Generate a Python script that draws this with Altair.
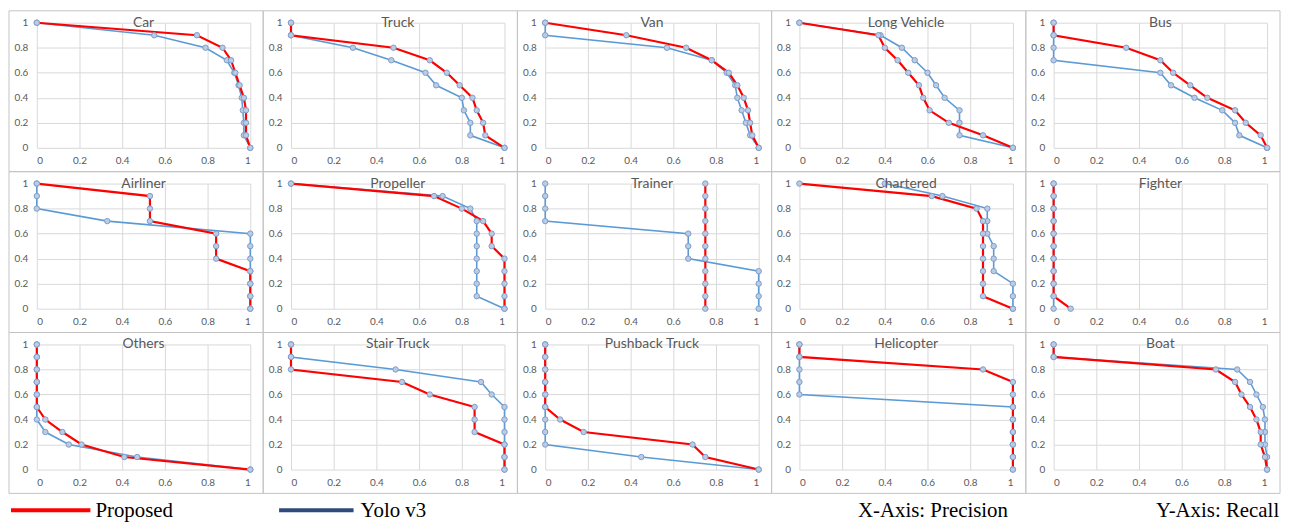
import altair as alt
import pandas as pd

# ---------------- data ----------------
names = ["Car", "Truck", "Van", "Long Vehicle", "Bus",
         "Airliner", "Propeller", "Trainer", "Chartered", "Fighter",
         "Others", "Stair Truck", "Pushback Truck", "Helicopter", "Boat"]

recall_levels = [1.0, 0.9, 0.8, 0.7, 0.6, 0.5, 0.4, 0.3, 0.2, 0.1, 0.0]

# precision at each recall level (recall 1.0 -> 0.0)
car_proposed = [0, 0.75, 0.87, 0.91, 0.93, 0.95, 0.97, 0.98, 0.98, 0.98, 1]
car_yolo = [0, 0.55, 0.79, 0.89, 0.925, 0.945, 0.96, 0.965, 0.97, 0.97, 1]
truck_proposed = [0, 0, 0.48, 0.65, 0.73, 0.79, 0.85, 0.87, 0.90, 0.91, 1]
truck_yolo = [0, 0, 0.29, 0.47, 0.63, 0.68, 0.80, 0.81, 0.84, 0.84, 1]
van_proposed = [0, 0.38, 0.66, 0.78, 0.86, 0.90, 0.93, 0.95, 0.96, 0.97, 1]
van_yolo = [0, 0, 0.57, 0.78, 0.85, 0.89, 0.90, 0.92, 0.94, 0.96, 1]
long_vehicle_proposed = [0, 0.37, 0.40, 0.46, 0.51, 0.56, 0.58, 0.61, 0.70, 0.86, 1]
long_vehicle_yolo = [0, 0.38, 0.48, 0.54, 0.60, 0.64, 0.68, 0.75, 0.75, 0.75, 1]
bus_proposed = [0, 0, 0.34, 0.50, 0.56, 0.64, 0.72, 0.85, 0.90, 0.97, 1]
bus_yolo = [0, 0, 0, 0, 0.50, 0.55, 0.66, 0.79, 0.85, 0.87, 1]
airliner_proposed = [0, 0.53, 0.53, 0.53, 0.84, 0.84, 0.84, 1, 1, 1, 1]
airliner_yolo = [0, 0, 0, 0.33, 1, 1, 1, 1, 1, 1, 1]
propeller_proposed = [0, 0.67, 0.80, 0.90, 0.94, 0.94, 1, 1, 1, 1, 1]
propeller_yolo = [0, 0.71, 0.84, 0.87, 0.87, 0.87, 0.87, 0.87, 0.87, 0.87, 1]
trainer_proposed = [0.75, 0.75, 0.75, 0.75, 0.75, 0.75, 0.75, 0.75, 0.75, 0.75, 0.75]
trainer_yolo = [0, 0, 0, 0, 0.67, 0.67, 0.67, 1, 1, 1, 1]
chartered_proposed = [0, 0.62, 0.83, 0.86, 0.86, 0.86, 0.86, 0.86, 0.86, 0.86, 1]
chartered_yolo = [0.40, 0.67, 0.88, 0.88, 0.88, 0.91, 0.91, 0.91, 1, 1, 1]
fighter_proposed = [0, 0, 0, 0, 0, 0, 0, 0, 0, 0, 0.08]
fighter_yolo = [0, 0, 0, 0, 0, 0, 0, 0, 0, 0, 0]
others_proposed = [0, 0, 0, 0, 0, 0, 0.04, 0.12, 0.21, 0.41, 1]
others_yolo = [0, 0, 0, 0, 0, 0, 0, 0.04, 0.15, 0.47, 1]
stair_truck_proposed = [0, 0, 0, 0.52, 0.65, 0.86, 0.86, 0.86, 1, 1, 1]
stair_truck_yolo = [0, 0, 0.49, 0.89, 0.94, 1, 1, 1, 1, 1, 1]
pushback_truck_proposed = [0, 0, 0, 0, 0, 0, 0.07, 0.18, 0.69, 0.75, 1]
pushback_truck_yolo = [0, 0, 0, 0, 0, 0, 0, 0, 0, 0.45, 1]
helicopter_proposed = [0, 0, 0.86, 1, 1, 1, 1, 1, 1, 1, 1]
helicopter_yolo = [0, 0, 0, 0, 0, 1, 1, 1, 1, 1, 1]
boat_proposed = [0, 0, 0.76, 0.85, 0.88, 0.92, 0.95, 0.97, 0.97, 0.99, 1]
boat_yolo = [0, 0, 0.86, 0.92, 0.95, 0.98, 0.99, 0.99, 0.99, 1.0, 1.0]

proposed_lists = [car_proposed, truck_proposed, van_proposed, long_vehicle_proposed, bus_proposed,
                  airliner_proposed, propeller_proposed, trainer_proposed, chartered_proposed, fighter_proposed,
                  others_proposed, stair_truck_proposed, pushback_truck_proposed, helicopter_proposed, boat_proposed]
yolo_lists = [car_yolo, truck_yolo, van_yolo, long_vehicle_yolo, bus_yolo,
              airliner_yolo, propeller_yolo, trainer_yolo, chartered_yolo, fighter_yolo,
              others_yolo, stair_truck_yolo, pushback_truck_yolo, helicopter_yolo, boat_yolo]

tick_values = [0, 0.2, 0.4, 0.6, 0.8, 1]
legend_labels = ["Proposed", "Yolo v3"]
axis_notes = ["X-Axis: Precision", "Y-Axis: Recall"]

rows = []
for name, prop, yolo in zip(names, proposed_lists, yolo_lists):
    for series, vals in (("Yolo v3", yolo), ("Proposed", prop)):
        for i, (p, r) in enumerate(zip(vals, recall_levels)):
            rows.append({"panel": name, "series": series, "idx": i, "precision": p, "recall": r})
df = pd.DataFrame(rows)

# ---------------- style ----------------
W, H = 215, 126
HSP, VSP = 41, 36
RED = "#FF0000"
BLUE = "#5B9BD5"
NAVY = "#2F4B7C"
BORDER = "#C4C4C4"
TXT = "#595959"
FONT = "Lato"

x_enc = alt.X("precision:Q", scale=alt.Scale(domain=[0, 1], nice=False, zero=False),
              axis=alt.Axis(values=tick_values, format="~g", title=None, labelPadding=8))
y_enc = alt.Y("recall:Q", scale=alt.Scale(domain=[0, 1], nice=False, zero=False),
              axis=alt.Axis(values=tick_values, format="~g", title=None, labelPadding=9))

one = pd.DataFrame({"b": [0]})


def leg_text(label, xpos, ypos):
    return alt.Chart(pd.DataFrame({"t": [label]})).mark_text(
        font="Liberation Serif", fontSize=21, color="#000000", align="left", baseline="middle"
    ).encode(text="t:N", x=alt.value(xpos), y=alt.value(ypos))


def legend_layers():
    ly = H + 41  # vertical centre of the legend line below the last row
    return [
        alt.Chart(one).mark_rule(color=RED, strokeWidth=4).encode(
            x=alt.value(-26), x2=alt.value(54), y=alt.value(ly)),
        alt.Chart(one).mark_rule(color=NAVY, strokeWidth=4).encode(
            x=alt.value(244), x2=alt.value(319), y=alt.value(ly)),
        leg_text(legend_labels[0], 59, ly + 1),
        leg_text(legend_labels[1], 326, ly + 1),
        leg_text(axis_notes[0], 827, ly + 1),
        leg_text(axis_notes[1], 1127, ly + 1),
    ]


def panel(name, with_legend=False):
    base = alt.Chart(df).transform_filter(alt.datum.panel == name)
    border = alt.Chart(one).mark_rect(
        fillOpacity=0, stroke=BORDER, strokeWidth=1
    ).encode(x=alt.value(-28), x2=alt.value(W + 13), y=alt.value(-12), y2=alt.value(H + 24))
    blue = base.transform_filter(alt.datum.series == "Yolo v3").mark_line(
        color=BLUE, strokeWidth=1.6).encode(x=x_enc, y=y_enc, order="idx:Q")
    red = base.transform_filter(alt.datum.series == "Proposed").mark_line(
        color=RED, strokeWidth=2.2).encode(x=x_enc, y=y_enc, order="idx:Q")
    pts = base.mark_point(shape="circle", filled=True, size=30, fill="#BACBE3",
                          stroke="#7E9CC9", strokeWidth=1, opacity=1).encode(x=x_enc, y=y_enc)
    title = alt.Chart(pd.DataFrame({"t": [name]})).mark_text(
        font=FONT, fontSize=14, color=TXT, baseline="middle", align="center"
    ).encode(text="t:N", x=alt.value(W / 2), y=alt.value(0))
    layers = [border, blue, red, pts, title]
    if with_legend:
        layers += legend_layers()
    return alt.layer(*layers).properties(width=W, height=H)


panels = [panel(n, with_legend=(n == "Others")) for n in names]

chart = alt.concat(*panels, columns=5, spacing={"row": VSP, "column": HSP}, bounds="flush").properties(
    padding={"left": 0, "top": 0, "right": 0, "bottom": 0}
).configure_view(strokeWidth=0).configure_axis(
    labelFont=FONT, labelFontSize=10, labelColor=TXT, gridColor="#D9D9D9", gridWidth=1,
    domain=False, ticks=False
)

chart.save("out.html", embed_options={"renderer": "svg", "actions": False})
